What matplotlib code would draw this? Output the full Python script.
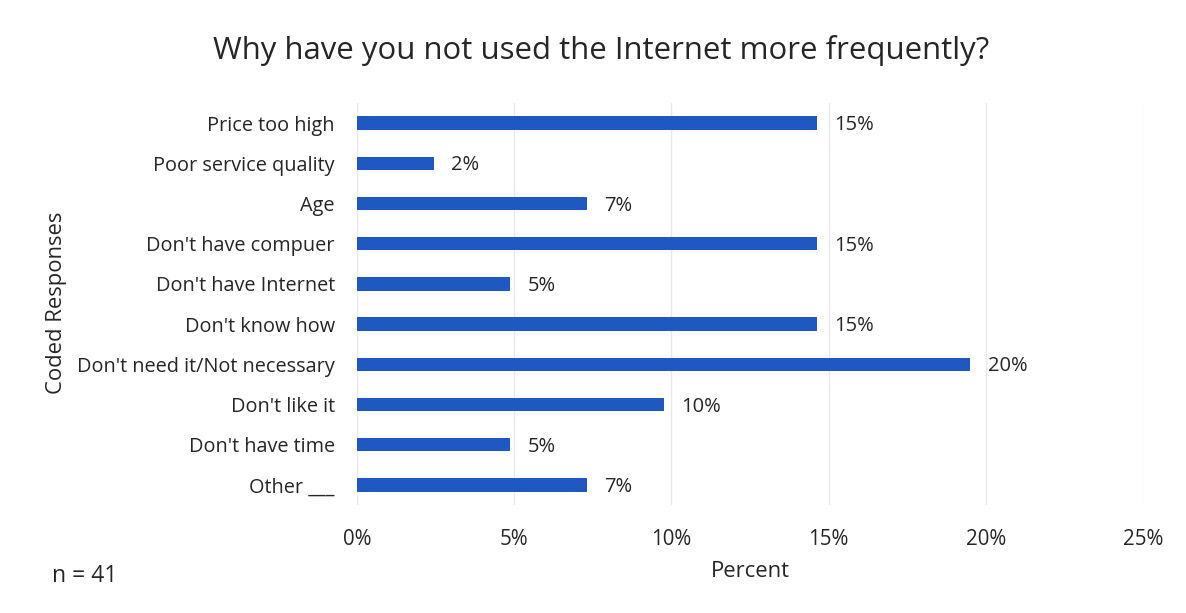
import matplotlib
matplotlib.use("Agg")
import matplotlib.pyplot as plt
from matplotlib.ticker import FuncFormatter, MultipleLocator

plt.rcParams['font.family'] = ['Open Sans', 'DejaVu Sans']

# Survey responses (n = 41), counts per coded reason
categories = [
    "Price too high",
    "Poor service quality",
    "Age",
    "Don't have compuer",
    "Don't have Internet",
    "Don't know how",
    "Don't need it/Not necessary",
    "Don't like it",
    "Don't have time",
    "Other ___",
]
counts = [6, 1, 3, 6, 2, 6, 8, 4, 2, 3]
n_total = 41
percents = [100.0 * c / n_total for c in counts]

title = "Why have you not used the Internet more frequently?"
x_label = "Percent"
y_label = "Coded Responses"
n_note = "n = 41"

text_color = "#262626"
bar_color = "#2058C2"

fig = plt.figure(figsize=(11.86, 6.13), dpi=100)
ax = fig.add_axes([357 / 1186, 1 - 505 / 613, (1143 - 357) / 1186, (505 - 103) / 613])

y = list(range(len(categories)))
ax.barh(y, percents, height=0.33, color=bar_color, zorder=3)
for yi, p in zip(y, percents):
    ax.text(p + 0.55, yi + 0.05, f"{p:.0f}%", va="center", ha="left",
            fontsize=14.5, color=text_color)

ax.set_ylim(len(categories) - 0.5, -0.5)
ax.set_xlim(0, 25)
ax.xaxis.set_major_locator(MultipleLocator(5))
ax.xaxis.set_major_formatter(FuncFormatter(lambda v, _: f"{v:.0f}%"))
ax.set_yticks(y)
ax.set_yticklabels(categories)
ax.tick_params(axis="both", length=0, colors=text_color)
ax.tick_params(axis="y", pad=16, labelsize=14.3)
ax.tick_params(axis="x", pad=17, labelsize=14.8)
ax.grid(axis="x", color="#e8e8e8", linewidth=1, zorder=0)
for s in ax.spines.values():
    s.set_visible(False)

ax.set_xlabel(x_label, fontsize=15.8, color=text_color, labelpad=8)
fig.text(57 / 1186, 1 - 303 / 613, y_label, rotation=90, ha="center", va="center",
         fontsize=15.8, color=text_color)
fig.text(601 / 1186, 1 - 50 / 613, title, ha="center", va="center",
         fontsize=22.4, color=text_color)
fig.text(52 / 1186, 1 - 576 / 613, n_note, ha="left", va="center",
         fontsize=16.5, color=text_color)

fig.savefig("out.png", dpi=100, facecolor="white")
